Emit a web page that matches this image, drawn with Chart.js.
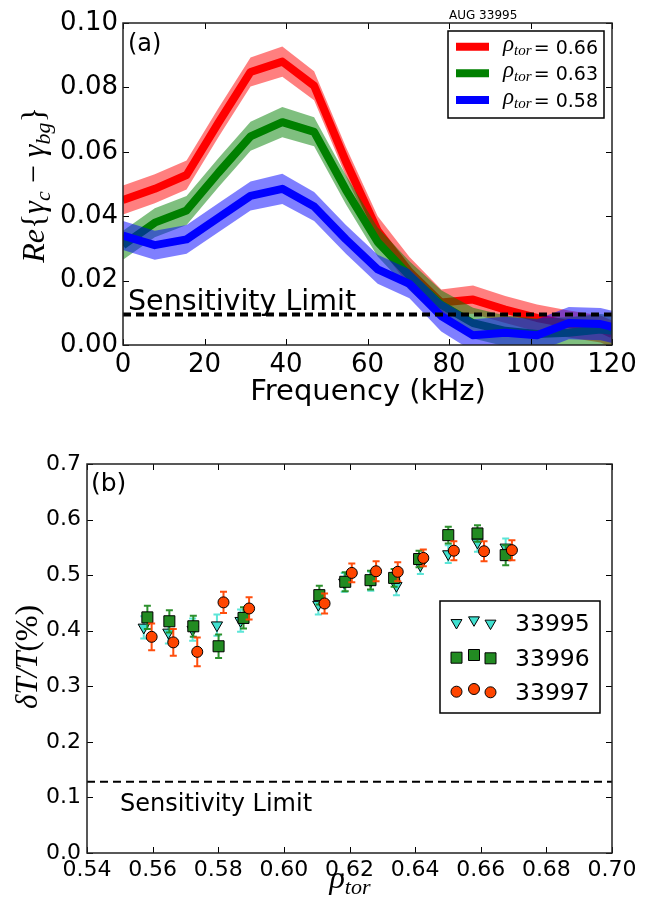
<!DOCTYPE html>
<html><head><meta charset="utf-8">
<script src="https://cdn.jsdelivr.net/npm/chart.js@4.4.1/dist/chart.umd.min.js"></script>
<style>
html,body{margin:0;padding:0;background:#fff;}
.box{position:absolute;left:0;width:645px;}
</style></head><body>
<div class="box" style="top:0;height:420px"><canvas id="c1"></canvas></div>
<div class="box" style="top:420px;height:485px"><canvas id="c2"></canvas></div>
<script>
// ---------- Panel (a) data ----------
const freqKHz   = [0, 7.8, 15.6, 23.4, 31.3, 39.1, 46.9, 54.7, 62.5, 70.3, 78.1, 85.9, 93.8, 101.6, 109.4, 117.2, 120];
const reRho066  = [0.0450, 0.0485, 0.0528, 0.0690, 0.0848, 0.0880, 0.0805, 0.0570, 0.0355, 0.0228, 0.0132, 0.0141, 0.0110, 0.0084, 0.0065, 0.0050, 0.0034];
const errRho066 = [0.0045, 0.0045, 0.0045, 0.0045, 0.0045, 0.0047, 0.0045, 0.0045, 0.0045, 0.0045, 0.0040, 0.0044, 0.0042, 0.0042, 0.0042, 0.0042, 0.0042];
const reRho063  = [0.0310, 0.0380, 0.0418, 0.0535, 0.0648, 0.0692, 0.0662, 0.0482, 0.0320, 0.0215, 0.0125, 0.0068, 0.0044, 0.0034, 0.0038, 0.0048, 0.0044];
const errRho063 = [0.0045, 0.0045, 0.0045, 0.0045, 0.0045, 0.0047, 0.0045, 0.0045, 0.0045, 0.0045, 0.0045, 0.0048, 0.0048, 0.0048, 0.0048, 0.0048, 0.0048];
const reRho058  = [0.0340, 0.0310, 0.0328, 0.0395, 0.0463, 0.0485, 0.0430, 0.0328, 0.0235, 0.0190, 0.0090, 0.0030, 0.0038, 0.0030, 0.0068, 0.0065, 0.0056];
const errRho058 = [0.0045, 0.0045, 0.0045, 0.0045, 0.0045, 0.0047, 0.0045, 0.0045, 0.0045, 0.0045, 0.0048, 0.0050, 0.0050, 0.0050, 0.0050, 0.0050, 0.0050];
const sensLimitA = 0.0095;
const xTicksA = [0, 20, 40, 60, 80, 100, 120];
const yTicksA = [0, 0.02, 0.04, 0.06, 0.08, 0.10];
const legendA = ['0.66', '0.63', '0.58'];

// ---------- Panel (b) data ----------
const rho33995 = [0.5573, 0.5648, 0.5722, 0.5796, 0.5868, 0.6105, 0.6184, 0.6265, 0.6343, 0.6416, 0.6501, 0.6590, 0.6676];
const dT33995  = [0.406, 0.397, 0.402, 0.410, 0.418, 0.447, 0.487, 0.489, 0.481, 0.518, 0.538, 0.559, 0.550];
const err33995 = [0.020, 0.020, 0.020, 0.019, 0.020, 0.018, 0.017, 0.017, 0.017, 0.016, 0.016, 0.017, 0.016];
const rho33996 = [0.5584, 0.5651, 0.5724, 0.5801, 0.5877, 0.6108, 0.6187, 0.6264, 0.6336, 0.6412, 0.6501, 0.6590, 0.6676];
const dT33996  = [0.424, 0.417, 0.408, 0.372, 0.423, 0.464, 0.488, 0.491, 0.495, 0.529, 0.572, 0.575, 0.536];
const err33996 = [0.021, 0.020, 0.019, 0.021, 0.019, 0.017, 0.017, 0.017, 0.016, 0.015, 0.015, 0.015, 0.018];
const rho33997 = [0.5597, 0.5663, 0.5736, 0.5816, 0.5894, 0.6124, 0.6207, 0.6281, 0.6347, 0.6425, 0.6518, 0.6610, 0.6695];
const dT33997  = [0.389, 0.379, 0.362, 0.451, 0.440, 0.449, 0.504, 0.507, 0.506, 0.531, 0.544, 0.543, 0.545];
const err33997 = [0.024, 0.024, 0.026, 0.019, 0.020, 0.018, 0.017, 0.018, 0.017, 0.015, 0.017, 0.018, 0.018];
const sensLimitB = 0.128;
const xTicksB = [0.54, 0.56, 0.58, 0.60, 0.62, 0.64, 0.66, 0.68, 0.70];
const yTicksB = [0.0, 0.1, 0.2, 0.3, 0.4, 0.5, 0.6, 0.7];
const shots = ['33995', '33996', '33997'];

// ---------- helpers ----------
const SANS = '"DejaVu Sans", sans-serif';
const SERIF = '"Liberation Serif", "DejaVu Serif", serif';
function pts(xs, ys) { return xs.map((x, i) => ({x: x, y: ys[i]})); }
function bandPts(vals, errs, sgn) { return freqKHz.map((f, i) => ({x: f, y: vals[i] + sgn * errs[i]})); }
function drawRuns(ctx, runs, x, y, align) {
  let total = 0;
  runs.forEach(r => { ctx.font = r.font; r.w = ctx.measureText(r.t).width; total += r.w; });
  let cx = align === 'center' ? x - total / 2 : (align === 'right' ? x - total : x);
  ctx.textAlign = 'left'; ctx.textBaseline = 'alphabetic';
  runs.forEach(r => { ctx.font = r.font; ctx.fillText(r.t, cx, y + (r.dy || 0)); cx += r.w; });
}
function marker(ctx, style, x, y, fill) {
  ctx.save();
  ctx.fillStyle = fill; ctx.strokeStyle = '#000'; ctx.lineWidth = 1;
  ctx.beginPath();
  if (style === 'tri') {
    const r = 6.3;
    ctx.moveTo(x - r * 0.866, y - r / 2); ctx.lineTo(x + r * 0.866, y - r / 2); ctx.lineTo(x, y + r); ctx.closePath();
  } else if (style === 'sq') {
    ctx.rect(x - 5.5, y - 5.5, 11, 11);
  } else {
    ctx.arc(x, y, 5.5, 0, Math.PI * 2);
  }
  ctx.fill(); ctx.stroke();
  ctx.restore();
}
function framePlugin(id) {
  return {
    id: id,
    afterDatasetsDraw(chart) {
      const ctx = chart.ctx, a = chart.chartArea, xs = chart.scales.x, ys = chart.scales.y;
      ctx.save();
      ctx.strokeStyle = '#000'; ctx.lineWidth = 1;
      ctx.beginPath();
      xs.ticks.forEach(t => {
        const p = Math.round(xs.getPixelForValue(t.value)) + 0.5;
        ctx.moveTo(p, a.bottom); ctx.lineTo(p, a.bottom - 6);
        ctx.moveTo(p, a.top); ctx.lineTo(p, a.top + 6);
      });
      ys.ticks.forEach(t => {
        const p = Math.round(ys.getPixelForValue(t.value)) + 0.5;
        ctx.moveTo(a.left, p); ctx.lineTo(a.left + 6, p);
        ctx.moveTo(a.right, p); ctx.lineTo(a.right - 6, p);
      });
      ctx.stroke();
      ctx.strokeStyle = '#222'; ctx.lineWidth = 1.5;
      ctx.strokeRect(a.left, a.top, a.right - a.left, a.bottom - a.top);
      ctx.restore();
    }
  };
}
function axisCommon(ticksArr, fmt, size, pad, fitFn) {
  return {
    type: 'linear', min: ticksArr[0], max: ticksArr[ticksArr.length - 1],
    afterBuildTicks: s => { s.ticks = ticksArr.map(v => ({value: v})); },
    afterFit: fitFn,
    grid: {display: false, drawTicks: false}, border: {display: false},
    ticks: {font: {family: SANS, size: size}, color: '#000', padding: pad, maxRotation: 0, autoSkip: false, callback: v => fmt(v)}
  };
}

// ---------- Chart (a) ----------
const colorsA = [['#ff0000', 'rgba(255,0,0,0.5)'], ['#008000', 'rgba(0,128,0,0.5)'], ['#0000ff', 'rgba(0,0,255,0.5)']];
const seriesA = [[reRho066, errRho066], [reRho063, errRho063], [reRho058, errRho058]];
const dsA = [];
seriesA.forEach((s, k) => {
  const ord = 10 - 2 * k;
  dsA.push({label: 'band+' + legendA[k], data: bandPts(s[0], s[1], 1), borderWidth: 0, pointRadius: 0, fill: '+1', backgroundColor: colorsA[k][1], order: ord + 1, clip: 0, tension: 0});
  dsA.push({label: 'band-' + legendA[k], data: bandPts(s[0], s[1], -1), borderWidth: 0, pointRadius: 0, fill: false, order: ord + 1, clip: 0, tension: 0});
  dsA.push({label: 'ρtor = ' + legendA[k], data: pts(freqKHz, s[0]), borderColor: colorsA[k][0], borderWidth: 8, pointRadius: 0, fill: false, order: ord, clip: 0, tension: 0, borderJoinStyle: 'round'});
});
dsA.push({label: 'Sensitivity Limit', data: [{x: 0, y: sensLimitA}, {x: 120, y: sensLimitA}], borderColor: '#000', borderWidth: 4, borderDash: [8, 5], pointRadius: 0, fill: false, order: 1, clip: 0});

const textA = {
  id: 'textA',
  afterDraw(chart) {
    const ctx = chart.ctx;
    ctx.save(); ctx.fillStyle = '#000';
    ctx.font = '29px ' + SANS; ctx.textAlign = 'center'; ctx.textBaseline = 'alphabetic';
    ctx.fillText('Frequency (kHz)', 368, 400);
    ctx.save(); ctx.translate(44, 185); ctx.rotate(-Math.PI / 2);
    const big = '32px ' + SERIF, bigI = 'italic 32px ' + SERIF, subI = 'italic 22px ' + SERIF;
    drawRuns(ctx, [{t: 'Re', font: bigI}, {t: '{', font: big}, {t: 'γ', font: bigI}, {t: 'c', font: subI, dy: 6},
      {t: ' − ', font: big}, {t: 'γ', font: bigI}, {t: 'bg', font: subI, dy: 6}, {t: '}', font: big}], 0, 0, 'center');
    ctx.restore();
    ctx.font = '24px ' + SANS; ctx.textAlign = 'left';
    ctx.fillText('(a)', 128, 51);
    ctx.font = '12px ' + SANS;
    ctx.fillText('AUG 33995', 449, 19);
    ctx.font = '28.5px ' + SANS;
    ctx.fillText('Sensitivity Limit', 128, 310);
    // legend
    ctx.fillStyle = '#fff'; ctx.fillRect(448, 31, 156, 87);
    ctx.strokeStyle = '#000'; ctx.lineWidth = 1.5; ctx.strokeRect(448, 31, 156, 87);
    const rows = [46.7, 73.3, 100];
    rows.forEach((ry, k) => {
      ctx.strokeStyle = colorsA[k][0]; ctx.lineWidth = 8;
      ctx.beginPath(); ctx.moveTo(456, ry); ctx.lineTo(489, ry); ctx.stroke();
      ctx.fillStyle = '#000';
      drawRuns(ctx, [{t: 'ρ', font: 'italic 23px ' + SERIF}, {t: 'tor', font: 'italic 15px ' + SERIF, dy: 4}], 503, ry + 4, 'left');
      ctx.font = '19px ' + SANS; ctx.textAlign = 'right'; ctx.textBaseline = 'alphabetic';
      ctx.fillText('= ' + legendA[k], 598, ry + 7);
    });
    ctx.restore();
  }
};

new Chart(document.getElementById('c1'), {
  type: 'line',
  data: {datasets: dsA},
  options: {
    responsive: true, maintainAspectRatio: false, animation: false, events: [],
    layout: {padding: {top: 23, right: 33, left: 0, bottom: 0}},
    plugins: {legend: {display: false}, tooltip: {enabled: false}},
    scales: {
      x: axisCommon(xTicksA, v => String(v), 26, 5, s => { s.height = 75; }),
      y: axisCommon(yTicksA, v => v.toFixed(2), 26, 5, s => { s.width = 123; })
    }
  },
  plugins: [framePlugin('frameA'), textA]
});

// ---------- Chart (b) ----------
const errPlugin = {
  id: 'errbars',
  beforeDatasetDraw(chart, args) {
    const ds = chart.data.datasets[args.index];
    if (!ds.errs) return;
    const ctx = chart.ctx, xs = chart.scales.x, ys = chart.scales.y;
    ctx.save();
    ctx.strokeStyle = ds.errColor; ctx.lineWidth = 2;
    ctx.beginPath();
    ds.data.forEach((p, i) => {
      const px = xs.getPixelForValue(p.x);
      const y1 = ys.getPixelForValue(p.y - ds.errs[i]);
      const y2 = ys.getPixelForValue(p.y + ds.errs[i]);
      ctx.moveTo(px, y1); ctx.lineTo(px, y2);
      ctx.moveTo(px - 3.5, y1); ctx.lineTo(px + 3.5, y1);
      ctx.moveTo(px - 3.5, y2); ctx.lineTo(px + 3.5, y2);
    });
    ctx.stroke();
    ctx.restore();
  }
};
const textB = {
  id: 'textB',
  afterDraw(chart) {
    const ctx = chart.ctx;
    ctx.save(); ctx.fillStyle = '#000';
    drawRuns(ctx, [{t: 'ρ', font: 'italic 32px ' + SERIF}, {t: 'tor', font: 'italic 22px ' + SERIF, dy: 6}], 350, 888 - 420, 'center');
    ctx.save(); ctx.translate(37, 657 - 420); ctx.rotate(-Math.PI / 2);
    drawRuns(ctx, [{t: 'δT/T', font: 'italic 31px ' + SERIF}, {t: '(%)', font: '31px ' + SERIF}], 0, 0, 'center');
    ctx.restore();
    ctx.font = '25px ' + SANS; ctx.textAlign = 'left'; ctx.textBaseline = 'alphabetic';
    ctx.fillText('(b)', 91, 491 - 420);
    ctx.font = '24px ' + SANS;
    ctx.fillText('Sensitivity Limit', 120, 811 - 420);
    // legend
    const L = 440, T = 601 - 420;
    ctx.fillStyle = '#fff'; ctx.fillRect(L, T, 160, 112);
    ctx.strokeStyle = '#000'; ctx.lineWidth = 1.5; ctx.strokeRect(L, T, 160, 112);
    const styles = [['tri', '#40E0D0'], ['sq', '#228B22'], ['circ', '#FF4500']];
    const rows = [622, 657, 691];
    const mx = [456.5, 474, 490.5], dy = [0.7, -2, 1.3];
    rows.forEach((ry, k) => {
      mx.forEach((x, j) => marker(ctx, styles[k][0], x, ry - 420 + dy[j], styles[k][1]));
      ctx.fillStyle = '#000'; ctx.font = '23.5px ' + SANS; ctx.textAlign = 'left';
      ctx.fillText(shots[k], 515, ry - 420 + 8.5);
    });
    ctx.restore();
  }
};

new Chart(document.getElementById('c2'), {
  type: 'scatter',
  data: {datasets: [
    {label: 'Sensitivity Limit', type: 'line', data: [{x: 0.54, y: sensLimitB}, {x: 0.70, y: sensLimitB}], borderColor: '#000', borderWidth: 2, borderDash: [8, 5], pointRadius: 0, fill: false, order: 5, clip: 0},
    {label: shots[0], data: pts(rho33995, dT33995), errs: err33995, errColor: 'rgba(64,224,208,0.85)', pointStyle: 'triangle', rotation: 180, pointRadius: 6.5, backgroundColor: '#40E0D0', borderColor: '#000', borderWidth: 1, order: 3},
    {label: shots[1], data: pts(rho33996, dT33996), errs: err33996, errColor: 'rgba(34,139,34,0.95)', pointStyle: 'rect', pointRadius: 7.8, backgroundColor: '#228B22', borderColor: '#000', borderWidth: 1, order: 2},
    {label: shots[2], data: pts(rho33997, dT33997), errs: err33997, errColor: 'rgba(255,69,0,0.95)', pointStyle: 'circle', pointRadius: 5.5, backgroundColor: '#FF4500', borderColor: '#000', borderWidth: 1, order: 1}
  ]},
  options: {
    responsive: true, maintainAspectRatio: false, animation: false, events: [],
    layout: {padding: {top: 44, right: 33, left: 0, bottom: 0}},
    plugins: {legend: {display: false}, tooltip: {enabled: false}},
    scales: {
      x: axisCommon(xTicksB, v => v.toFixed(2), 22, 4, s => { s.height = 52; }),
      y: axisCommon(yTicksB, v => v.toFixed(1), 22, 6, s => { s.width = 87; })
    }
  },
  plugins: [errPlugin, framePlugin('frameB'), textB]
});
</script>
</body></html>
